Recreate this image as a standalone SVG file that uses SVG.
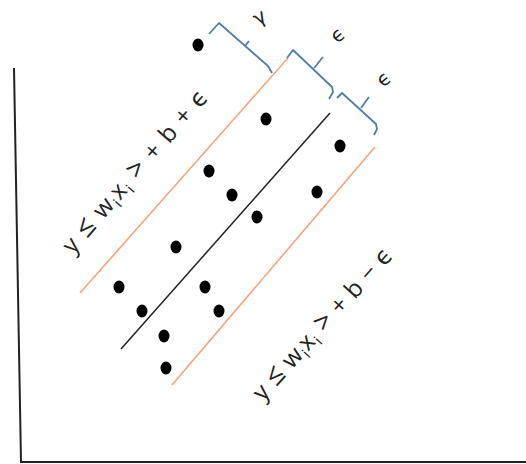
<svg xmlns="http://www.w3.org/2000/svg" width="526" height="464" viewBox="0 0 526 464">
<style>
.axis{stroke:#222;stroke-width:2;fill:none}
.orange{stroke:#F2A47A;stroke-width:1.6;fill:none}
.mid{stroke:#222;stroke-width:1.5;fill:none}
.brace{stroke:#4F7FA6;stroke-width:1.8;fill:none;stroke-linejoin:round}
.dot{fill:#000}
.lbl{font-family:"Open Sans","DejaVu Sans",sans-serif;font-size:24px;fill:#222}
.op{font-size:28px}
.sym{font-family:"DejaVu Sans",sans-serif;font-size:20px;fill:#222}
</style>
<rect width="526" height="464" fill="#fff"/>
<g id="axes">
<path class="axis" d="M14,68 L21,462 L526,462"/>
</g>
<g id="connectors">
<line class="orange" x1="80" y1="293" x2="288" y2="58"/>
<line class="mid" x1="121" y1="349" x2="330" y2="113"/>
<line class="orange" x1="172" y1="385" x2="375" y2="147"/>
</g>
<g id="braces">
<path class="brace" d="M209,34 L219,23 L268,66 L272,73"/>
<path class="brace" d="M245,46 L249,41"/>
<path class="brace" d="M287,58 L293,50 L332,87 L333,92 L329,99"/>
<path class="brace" d="M314,68 L323,57"/>
<path class="brace" d="M337,98 L342,93 L376,124 L377,129 L374,135"/>
<path class="brace" d="M361,108 L369,97"/>
</g>
<g id="labels">
<text class="sym" transform="translate(263,23) rotate(-30)" text-anchor="middle">γ</text>
<text class="sym" transform="translate(342,40) rotate(-40)" text-anchor="middle">ϵ</text>
<text class="sym" transform="translate(388,84) rotate(-40)" text-anchor="middle">ϵ</text>
<text class="lbl" transform="translate(73,255) rotate(-49)" textLength="208" lengthAdjust="spacing">y <tspan class="op">≤</tspan> w<tspan font-size="15" dy="5">i</tspan><tspan dy="-5">x</tspan><tspan font-size="15" dy="5">i</tspan><tspan dy="-5"> </tspan><tspan class="op">&gt;</tspan> + b + ϵ</text>
<text class="lbl" transform="translate(263,402) rotate(-48)" textLength="196" lengthAdjust="spacing">y <tspan class="op">≤</tspan> w<tspan font-size="15" dy="5">i</tspan><tspan dy="-5">x</tspan><tspan font-size="15" dy="5">i</tspan><tspan dy="-5"> </tspan><tspan class="op">&gt;</tspan> + b − ϵ</text>
</g>
<g id="points">
<ellipse class="dot" cx="198" cy="45" rx="5.5" ry="6.5"/>
<ellipse class="dot" cx="266" cy="119" rx="5.5" ry="6.5"/>
<ellipse class="dot" cx="340" cy="146" rx="5.5" ry="6.5"/>
<ellipse class="dot" cx="209" cy="171" rx="5.5" ry="6.5"/>
<ellipse class="dot" cx="232" cy="195" rx="5.5" ry="6.5"/>
<ellipse class="dot" cx="317" cy="192" rx="5.5" ry="6.5"/>
<ellipse class="dot" cx="257" cy="217" rx="5.5" ry="6.5"/>
<ellipse class="dot" cx="176" cy="247" rx="5.5" ry="6.5"/>
<ellipse class="dot" cx="119" cy="287" rx="5.5" ry="6.5"/>
<ellipse class="dot" cx="205" cy="287" rx="5.5" ry="6.5"/>
<ellipse class="dot" cx="142" cy="311" rx="5.5" ry="6.5"/>
<ellipse class="dot" cx="219" cy="311" rx="5.5" ry="6.5"/>
<ellipse class="dot" cx="164" cy="336" rx="5.5" ry="6.5"/>
<ellipse class="dot" cx="166" cy="368" rx="5.5" ry="6.5"/>
</g>
</svg>
